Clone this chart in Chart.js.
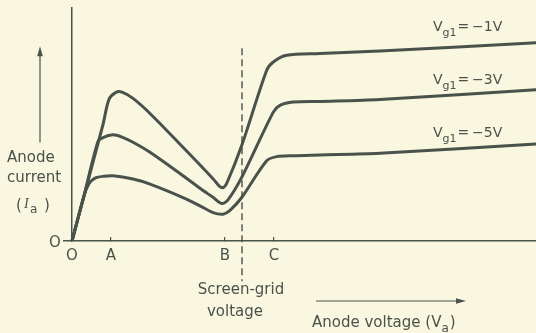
<!DOCTYPE html>
<html>
<head>
<meta charset="utf-8">
<script src="https://cdn.jsdelivr.net/npm/chart.js@4.4.1/dist/chart.umd.min.js"></script>
<style>
  html, body { margin: 0; padding: 0; background: #f9f7df; }
  #wrap { width: 536px; height: 333px; }
</style>
</head>
<body>
<div id="wrap"><canvas id="tetrodeChart" width="536" height="333"></canvas></div>
<script>
// Tetrode anode characteristics, arbitrary units (Va across, Ia up)
const vaBias1 = [0, 6, 15.5, 18.5, 22, 25, 30.5, 39, 55.5, 70.5, 73.5, 75.5, 77.5, 84.85, 97.35, 100.65, 107.35, 124, 154, 232];
const iaBias1 = [0, 22.5, 58, 70.5, 74, 74.1, 71, 63.5, 46.65, 31, 27.5, 26.5, 29, 47.5, 85, 89.15, 92.5, 93.35, 94.65, 98.65];

const vaBias3 = [0, 6, 13, 15.5, 20.5, 25, 30.5, 39, 55.5, 64, 70.5, 74.85, 78, 84.85, 100.65, 104, 110.65, 124, 154, 232];
const iaBias3 = [0, 22.5, 49.5, 51.5, 52.85, 51.75, 49.15, 44.15, 32.5, 26.25, 21.75, 18.65, 20.5, 31.65, 64.15, 67.5, 69.15, 69.5, 70.5, 75.35];

const vaBias5 = [0, 6, 8.5, 11.5, 16, 20.5, 30.5, 39, 55.5, 64, 70.5, 75.5, 79, 84.85, 97.35, 102.35, 110.5, 124, 154, 232];
const iaBias5 = [0, 22.5, 28.5, 31.3, 32.25, 32.5, 30.85, 28.35, 21.65, 17.5, 14.15, 13.35, 15.25, 21.65, 40, 42, 42.5, 42.85, 43.65, 48.35];

const biasLabels = ["\u22121V", "\u22123V", "\u22125V"];
const biasLabelIa = [104.5, 78, 52];

const xTickValues = [0, 19.5, 76.5, 101];
const xTickLabels = ["O", "A", "B", "C"];
const screenGridVa = 85;

const ink = "#4a524c";
const font = "DejaVu Sans";

const toPoints = (xs, ys) => xs.map((x, i) => ({ x: x, y: ys[i] }));

function drawSub(ctx, x, y, main, sub, rest, size) {
    ctx.font = size + "px '" + font + "'";
    ctx.fillText(main, x, y);
    x += ctx.measureText(main).width;
    ctx.font = (size - 3) + "px '" + font + "'";
    ctx.fillText(sub, x, y + 5);
    x += ctx.measureText(sub).width + 1;
    ctx.font = size + "px '" + font + "'";
    ctx.fillText(rest, x, y);
}

function arrow(ctx, x1, y1, x2, y2) {
    const a = Math.atan2(y2 - y1, x2 - x1);
    ctx.beginPath();
    ctx.moveTo(x1, y1);
    ctx.lineTo(x2 - 8 * Math.cos(a), y2 - 8 * Math.sin(a));
    ctx.stroke();
    ctx.beginPath();
    ctx.moveTo(x2, y2);
    ctx.lineTo(x2 - 10 * Math.cos(a) + 2.8 * Math.sin(a), y2 - 10 * Math.sin(a) - 2.8 * Math.cos(a));
    ctx.lineTo(x2 - 10 * Math.cos(a) - 2.8 * Math.sin(a), y2 - 10 * Math.sin(a) + 2.8 * Math.cos(a));
    ctx.closePath();
    ctx.fill();
}

const annotations = {
    id: "annotations",
    afterDatasetsDraw(chart) {
        const { ctx, chartArea, scales: { x, y } } = chart;
        ctx.save();
        ctx.strokeStyle = ink;
        ctx.fillStyle = ink;

        // screen-grid voltage marker
        const sx = x.getPixelForValue(screenGridVa);
        ctx.lineWidth = 1.4;
        ctx.setLineDash([7, 4]);
        ctx.beginPath();
        ctx.moveTo(sx, y.getPixelForValue(96));
        ctx.lineTo(sx, y.getPixelForValue(-20));
        ctx.stroke();
        ctx.setLineDash([]);

        ctx.font = "15px '" + font + "'";
        ctx.textAlign = "center";
        ctx.textBaseline = "alphabetic";
        ctx.fillText("Screen-grid", sx - 1, y.getPixelForValue(-26.5));
        ctx.fillText("voltage", sx - 7, y.getPixelForValue(-37.5));

        // origin label on the current axis
        ctx.fillText("O", chartArea.left - 9, y.getPixelForValue(0) + 5.5);

        // current axis caption and arrow
        ctx.lineWidth = 1.2;
        arrow(ctx, 40, y.getPixelForValue(49), 40, y.getPixelForValue(97));
        ctx.textAlign = "left";
        ctx.fillText("Anode", 7, 162);
        ctx.fillText("current", 7, 182);
        ctx.fillText("(", 16, 210);
        ctx.font = "italic 14px 'Liberation Serif'";
        ctx.fillText("I", 24, 208);
        ctx.font = "12px '" + font + "'";
        ctx.fillText("a", 30, 213);
        ctx.font = "15px '" + font + "'";
        ctx.fillText(")", 44, 210);

        // voltage axis caption and arrow
        arrow(ctx, 316, 301, 466, 301);
        drawSub(ctx, 312, 327, "Anode voltage (V", "a", ")", 15);

        // control-grid bias labels
        biasLabels.forEach((label, i) => {
            drawSub(ctx, 433, y.getPixelForValue(biasLabelIa[i]), "V", "g1", "=\u2009" + label, 14);
        });
        ctx.restore();
    }
};

const lineStyle = {
    borderColor: ink,
    borderWidth: 3,
    pointRadius: 0,
    fill: false,
    tension: 0.3,
    borderCapStyle: "round",
    borderJoinStyle: "round"
};

new Chart(document.getElementById("tetrodeChart"), {
    type: "line",
    data: {
        datasets: [
            Object.assign({ label: biasLabels[0], data: toPoints(vaBias1, iaBias1) }, lineStyle),
            Object.assign({ label: biasLabels[1], data: toPoints(vaBias3, iaBias3) }, lineStyle),
            Object.assign({ label: biasLabels[2], data: toPoints(vaBias5, iaBias5) }, lineStyle)
        ]
    },
    options: {
        responsive: false,
        animation: false,
        layout: { padding: { left: 64, right: 0, top: 8, bottom: 58 } },
        plugins: { legend: { display: false }, tooltip: { enabled: false } },
        scales: {
            x: {
                type: "linear",
                min: -4,
                max: 232,
                border: { color: ink, width: 1.5 },
                grid: {
                    drawOnChartArea: false,
                    tickLength: -4,
                    lineWidth: 1.2,
                    color: (c) => (c.index === 0 ? "rgba(0,0,0,0)" : ink)
                },
                afterBuildTicks: (scale) => {
                    scale.ticks = xTickValues.map((v) => ({ value: v }));
                },
                ticks: {
                    autoSkip: false,
                    maxRotation: 0,
                    padding: 10,
                    color: ink,
                    font: { family: font, size: 15 },
                    callback: (value, index) => xTickLabels[index]
                }
            },
            y: {
                type: "linear",
                min: 0,
                max: 116,
                position: { x: 0 },
                border: { color: ink, width: 1.5 },
                grid: { drawOnChartArea: false, drawTicks: false },
                ticks: { display: false }
            }
        }
    },
    plugins: [annotations]
});
</script>
</body>
</html>
